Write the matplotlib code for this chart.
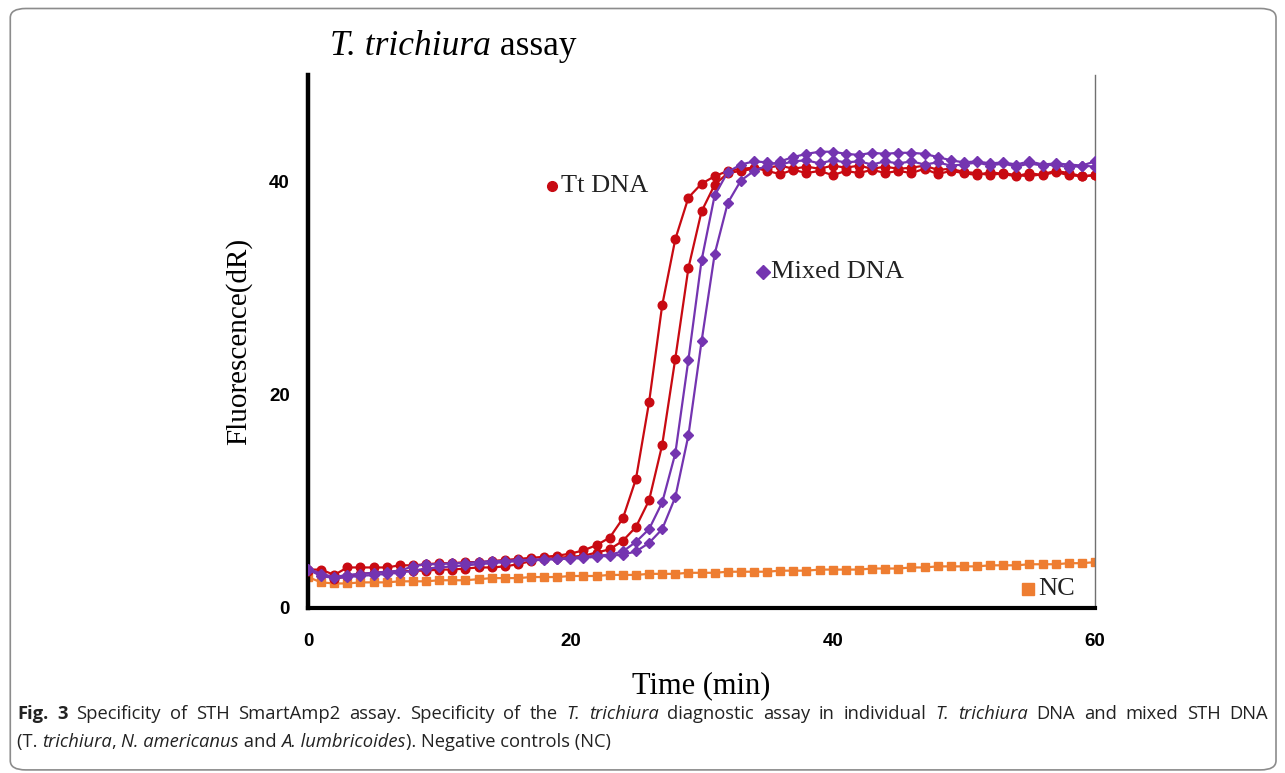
# -*- coding: utf-8 -*-
"""SmartAmp2 specificity curves (T. trichiura assay), Fig. 3 look-alike."""
import numpy as np
import matplotlib; matplotlib.use("Agg")
import matplotlib.pyplot as plt
from matplotlib.patches import FancyBboxPatch

TIME = np.arange(0, 61)  # one reading per minute

TT_A = [3.6, 3.6, 3.1, 3.8, 3.8, 3.8, 3.8, 4.0, 4.0, 4.1, 4.2, 4.2, 4.3, 4.3, 4.4, 4.5,
        4.6, 4.7, 4.8, 4.9, 5.1, 5.4, 5.9, 6.6, 8.4, 12.1, 19.3, 28.4, 34.6, 38.5, 39.8,
        40.5, 41.0, 41.2, 41.3, 41.0, 40.7, 41.1, 40.8, 41.0, 40.6, 41.0, 40.8, 41.1, 40.8,
        41.0, 40.8, 41.2, 40.7, 41.0, 40.8, 40.6, 40.9, 40.7, 40.5, 40.8, 40.6, 40.9, 40.6,
        40.5, 40.6]
TT_B = [3.5, 3.3, 2.7, 3.0, 3.2, 3.3, 3.4, 3.4, 3.5, 3.5, 3.6, 3.6, 3.7, 3.8, 3.8, 3.9,
        4.1, 4.4, 4.6, 4.7, 4.8, 4.9, 5.2, 5.5, 6.3, 7.6, 10.1, 15.3, 23.4, 31.9, 37.2,
        39.7, 40.8, 41.0, 41.2, 41.3, 41.5, 41.2, 41.4, 41.2, 41.5, 41.3, 41.5, 41.2, 41.4,
        41.2, 41.3, 41.5, 41.1, 41.2, 40.9, 40.8, 40.6, 40.8, 40.6, 40.5, 40.7, 41.0, 40.8,
        40.5, 40.6]
MIX_A = [3.7, 3.2, 2.9, 3.1, 3.2, 3.3, 3.4, 3.5, 3.9, 4.1, 4.1, 4.2, 4.2, 4.3, 4.4, 4.4,
         4.5, 4.5, 4.6, 4.6, 4.7, 4.8, 4.9, 5.0, 5.3, 6.2, 7.4, 9.9, 14.5, 23.3, 32.6,
         38.7, 40.9, 41.6, 41.9, 41.8, 41.6, 41.9, 42.0, 41.7, 42.0, 41.8, 41.9, 41.6, 41.9,
         41.7, 41.9, 41.6, 41.8, 41.5, 41.6, 41.8, 41.5, 41.7, 41.4, 41.7, 41.5, 41.6, 41.3,
         41.5, 41.4]
MIX_B = [3.6, 3.0, 2.8, 2.9, 3.0, 3.1, 3.2, 3.3, 3.5, 3.7, 3.8, 3.9, 4.0, 4.1, 4.2, 4.3,
         4.4, 4.5, 4.5, 4.6, 4.6, 4.7, 4.8, 4.9, 5.0, 5.3, 6.1, 7.4, 10.4, 16.2, 25.0,
         33.2, 38.0, 40.1, 41.0, 41.5, 41.9, 42.3, 42.6, 42.8, 42.8, 42.6, 42.5, 42.7, 42.6,
         42.7, 42.7, 42.6, 42.3, 42.0, 41.8, 41.9, 41.7, 41.8, 41.6, 41.9, 41.6, 41.7, 41.6,
         41.5, 41.9]
NC = [2.9, 2.4, 2.3, 2.3, 2.4, 2.4, 2.4, 2.5, 2.5, 2.5, 2.6, 2.6, 2.6, 2.7, 2.8, 2.8,
      2.8, 2.9, 2.9, 2.9, 3.0, 3.0, 3.0, 3.1, 3.1, 3.1, 3.2, 3.2, 3.2, 3.3, 3.3, 3.3,
      3.4, 3.4, 3.4, 3.4, 3.5, 3.5, 3.5, 3.6, 3.6, 3.6, 3.6, 3.7, 3.7, 3.7, 3.8, 3.8,
      3.9, 3.9, 3.9, 3.9, 4.0, 4.0, 4.0, 4.1, 4.1, 4.1, 4.2, 4.2, 4.3]

RED, PURPLE, ORANGE = "#c80a12", "#7434b0", "#ee7d31"
SERIF = ["Liberation Serif", "DejaVu Serif"]
CAP_FONT = ["Open Sans", "DejaVu Sans"]
CAP_SIZE = 13.2


def put_runs(fig, x, y, runs, size, family, **kw):
    """Write (text, style, weight) runs one after another along a line."""
    r = fig.canvas.get_renderer()
    for s, style, weight in runs:
        t = fig.text(x, y, s, fontsize=size, family=family, style=style,
                     weight=weight, va="center", ha="left", **kw)
        x += t.get_window_extent(renderer=r).width / fig.bbox.width
    return x


def put_justified(fig, x0, x1, y, runs, size, family, **kw):
    """Same as put_runs but stretches the word gaps so the line spans x0..x1."""
    r = fig.canvas.get_renderer()
    words = []
    for s, style, weight in runs:
        for w in s.split(" "):
            if w:
                words.append((w, style, weight))
    arts, total = [], 0.0
    for w, style, weight in words:
        t = fig.text(x0, y, w, fontsize=size, family=family, style=style,
                     weight=weight, va="center", ha="left", **kw)
        wd = t.get_window_extent(renderer=r).width / fig.bbox.width
        arts.append((t, wd)); total += wd
    gap = (x1 - x0 - total) / (len(arts) - 1)
    x = x0
    for t, wd in arts:
        t.set_x(x); x += wd + gap


fig = plt.figure(figsize=(12.85, 7.73), dpi=100)
fig.patches.append(FancyBboxPatch((0.008, 0.004), 0.985, 0.985,
                                  boxstyle="round,pad=0,rounding_size=0.012",
                                  transform=fig.transFigure, fill=False,
                                  ec="#8c8c8c", lw=1.2))

ax = fig.add_axes([0.2397, 0.2135, 0.6125, 0.6895])
ax.plot(TIME, NC, color=ORANGE, marker="s", ms=5.8, lw=1.6, zorder=2)
ax.plot(TIME, TT_A, color=RED, marker="o", ms=6.2, lw=1.6, zorder=3)
ax.plot(TIME, TT_B, color=RED, marker="o", ms=6.2, lw=1.6, zorder=3)
ax.plot(TIME, MIX_A, color=PURPLE, marker="D", ms=5.6, lw=1.6, zorder=4)
ax.plot(TIME, MIX_B, color=PURPLE, marker="D", ms=5.6, lw=1.6, zorder=4)

# in-plot labels
ax.plot([18.6], [39.6], "o", color=RED, ms=7, clip_on=False)
ax.text(19.3, 39.6, "Tt DNA", family=SERIF, fontsize=19, va="center", color="#222222")
ax.plot([34.7], [31.5], "D", color=PURPLE, ms=7, clip_on=False)
ax.text(35.3, 31.5, "Mixed DNA", family=SERIF, fontsize=19, va="center", color="#222222")
ax.plot([54.9], [1.8], "s", color=ORANGE, ms=8, clip_on=False)
ax.text(55.7, 1.8, "NC", family=SERIF, fontsize=19, va="center", color="#222222")

ax.set_xlim(0, 60)
ax.set_ylim(0, 50)
ax.set_xticks([0, 20, 40, 60])
ax.set_yticks([0, 20, 40])
ax.tick_params(length=0, labelsize=13.5)
ax.tick_params(axis="x", pad=18)
ax.tick_params(axis="y", pad=13)
for lab in ax.get_xticklabels() + ax.get_yticklabels():
    lab.set_fontweight("bold")
    lab.set_family(["Liberation Sans", "DejaVu Sans"])
ax.spines["top"].set_visible(False)
ax.spines["left"].set_linewidth(3.2)
ax.spines["bottom"].set_linewidth(3.0)
ax.spines["right"].set_linewidth(1.0)
ax.spines["right"].set_color("#707070")
ax.set_ylabel("Fluorescence(dR)", family=SERIF, fontsize=21, labelpad=12)
ax.set_xlabel("Time (min)", family=SERIF, fontsize=22, labelpad=15)

# title with italic species name
put_runs(fig, 0.257, 0.940, [("T. trichiura", "italic", "normal"),
                             (" assay", "normal", "normal")], 25.5, SERIF)

# caption
cy1, cy2 = 1 - 714 / 773, 1 - 742 / 773
put_justified(fig, 0.0132, 0.9868, cy1, [
    ("Fig. 3", "normal", "bold"),
    (" Specificity of STH SmartAmp2 assay. Specificity of the ", "normal", "normal"),
    ("T. trichiura", "italic", "normal"),
    (" diagnostic assay in individual ", "normal", "normal"),
    ("T. trichiura", "italic", "normal"),
    (" DNA and mixed STH DNA", "normal", "normal")], CAP_SIZE, CAP_FONT, color="#222222")
put_runs(fig, 0.0132, cy2, [
    ("(T. ", "normal", "normal"),
    ("trichiura", "italic", "normal"),
    (", ", "normal", "normal"),
    ("N. americanus", "italic", "normal"),
    (" and ", "normal", "normal"),
    ("A. lumbricoides", "italic", "normal"),
    ("). Negative controls (NC)", "normal", "normal")], CAP_SIZE, CAP_FONT, color="#222222")

fig.savefig("out.png", dpi=100)
